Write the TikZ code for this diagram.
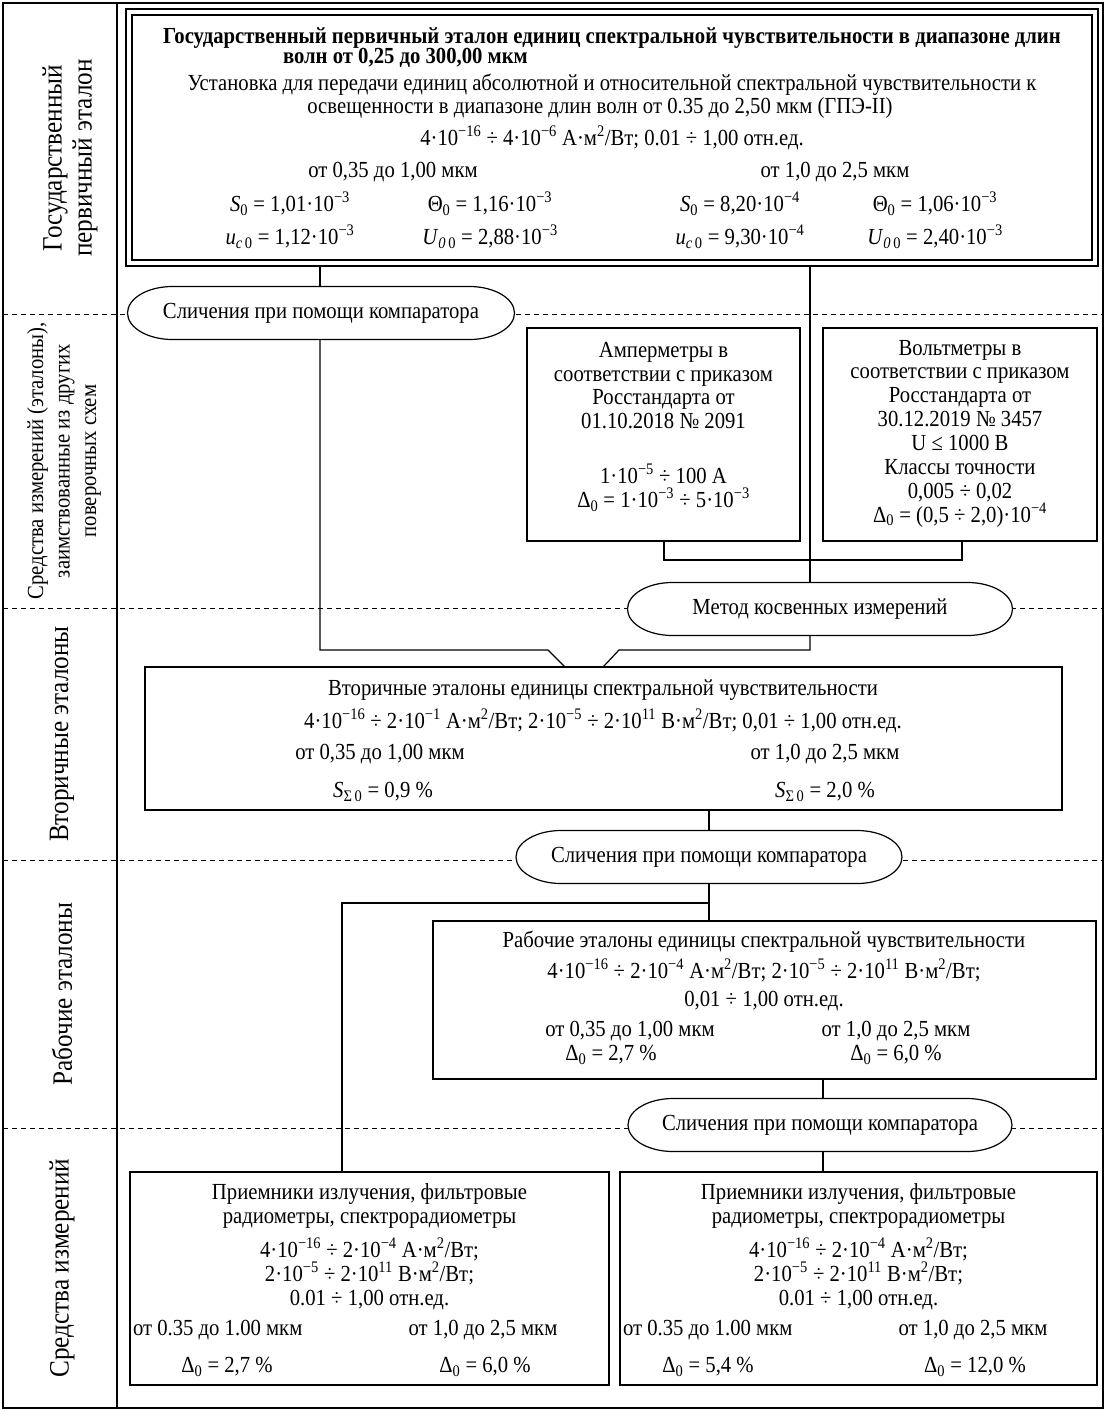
\documentclass[tikz,border=0pt]{standalone}
\usepackage{fontspec}
\setmainfont{Liberation Serif}[FakeStretch=0.9]
\usetikzlibrary{backgrounds,fit}
\newcommand\up[1]{\textsuperscript{#1}}
\newcommand\dn[1]{\textsubscript{#1}}
\newcommand\ovalpath[1]{%
  \draw[ovalline] ([xshift=45pt]#1.north west) -- ([xshift=-45pt]#1.north east)
    arc[start angle=90, end angle=-90, x radius=45pt, y radius=26.5pt]
    -- ([xshift=45pt]#1.south west)
    arc[start angle=270, end angle=90, x radius=45pt, y radius=26.5pt] -- cycle;}
\begin{document}
\begin{tikzpicture}[x=1pt,y=-1pt,
  every node/.style={inner sep=0pt, outer sep=0pt},
  outerframe/.style={draw, line width=2pt, inner sep=0pt},
  box/.style={draw, line width=1.4pt, fill=white, inner sep=0pt},
  ovaltext/.style={minimum height=53pt, inner sep=0pt, font=\fontsize{23}{26}\selectfont},
  ovalline/.style={draw, line width=1.2pt, fill=white},
  txt/.style={font=\fontsize{23}{23}\selectfont, inner sep=0pt, align=center},
  tb/.style={font=\fontsize{23}{23}\selectfont\bfseries, inner sep=0pt, align=center},
  lbl/.style={font=\fontsize{28}{30}\selectfont, rotate=90, align=center, inner sep=0pt},
  link/.style={line width=1.2pt},
  sep/.style={dash pattern=on 5pt off 4pt, line width=0.8pt}]
\useasboundingbox (0,0) rectangle (1106,1411);

% frame and left column
\node[outerframe, fit={(3,3) (1103,1408)}] (frame) {};
\coordinate (d1) at (117,3);
\coordinate (d2) at (117,1408);
\draw[line width=1.5pt] (d1) -- (d2);

\node[lbl] (L1) at (70,158) {Государственный\\первичный эталон};
\node[lbl, font=\fontsize{23}{26.5}\selectfont] (L2) at (64,461) {Средства измерений (эталоны),\\заимствованные из других\\поверочных схем};
\node[lbl] (L3) at (62,734) {Вторичные эталоны};
\node[lbl] (L4) at (62,994) {Рабочие эталоны};
\node[lbl] (L5) at (62,1268) {Средства измерений};

% boxes
\node[box, line width=2.8pt, fit={(126,9) (1098,266)}] (top) {};
\node[draw, line width=1.2pt, inner sep=0pt, fit={(132,15) (1092,260)}] (topin) {};
\node[box, fit={(527,328) (800,541)}] (amp) {};
\node[box, fit={(823,328) (1097,541)}] (volt) {};
\node[box, fit={(145,667) (1062,810)}] (sec) {};
\node[box, fit={(433,921) (1096,1079)}] (work) {};
\node[box, fit={(130,1172) (609,1385)}] (bl) {};
\node[box, fit={(620,1172) (1097,1385)}] (br) {};

% ovals (text; outlines drawn on background layer)
\node[ovaltext, minimum width=387pt] (o1) at (321,313) {Сличения при помощи компаратора};
\node[ovaltext, minimum width=385pt] (o2) at (820,609) {Метод косвенных измерений};
\node[ovaltext, minimum width=386pt] (o3) at (709,857) {Сличения при помощи компаратора};
\node[ovaltext, minimum width=384pt] (o4) at (820,1125) {Сличения при помощи компаратора};

% top box text
\node[tb] (t1) at (612,38) {Государственный первичный эталон единиц спектральной чувствительности в диапазоне длин};
\node[tb, anchor=west] (t2) at (283,58) {волн от 0,25 до 300,00 мкм};
\node[txt] (t3) at (612,85) {Установка для передачи единиц абсолютной и относительной спектральной чувствительности к};
\node[txt] (t4) at (600,108) {освещенности в диапазоне длин волн от 0.35 до 2,50 мкм (ГПЭ-II)};
\node[txt] (t5) at (612,138) {4·10\up{−16} ÷ 4·10\up{−6} А·м\up{2}/Вт; 0.01 ÷ 1,00 отн.ед.};
\node[txt] (t6) at (393,172) {от 0,35 до 1,00 мкм};
\node[txt] (t7) at (835,172) {от 1,0 до 2,5 мкм};
\node[txt] (t8) at (290,204) {\textit{S}\dn{0} = 1,01·10\up{−3}};
\node[txt] (t9) at (490,204) {Θ\dn{0} = 1,16·10\up{−3}};
\node[txt] (t10) at (740,204) {\textit{S}\dn{0} = 8,20·10\up{−4}};
\node[txt] (t11) at (935,204) {Θ\dn{0} = 1,06·10\up{−3}};
\node[txt] (t12) at (290,237) {\textit{u}\dn{\textit{c}\,0} = 1,12·10\up{−3}};
\node[txt] (t13) at (490,237) {\textit{U}\dn{\textit{0}\,0} = 2,88·10\up{−3}};
\node[txt] (t14) at (740,237) {\textit{u}\dn{\textit{c}\,0} = 9,30·10\up{−4}};
\node[txt] (t15) at (935,237) {\textit{U}\dn{\textit{0}\,0} = 2,40·10\up{−3}};

% ammeters / voltmeters
\node[txt, font=\fontsize{23}{23.7}\selectfont] (a1) at (663.5,385.5) {Амперметры в\\соответствии с приказом\\Росстандарта от\\01.10.2018 № 2091};
\node[txt, font=\fontsize{23}{24}\selectfont] (a2) at (663.5,488) {1·10\up{−5} ÷ 100 А\\Δ\dn{0} = 1·10\up{−3} ÷ 5·10\up{−3}};
\node[txt, font=\fontsize{23}{23.86}\selectfont] (v1) at (960,433.5) {Вольтметры в\\соответствии с приказом\\Росстандарта от\\30.12.2019 № 3457\\U ≤ 1000 В\\Классы точности\\0,005 ÷ 0,02\\Δ\dn{0} = (0,5 ÷ 2,0)·10\up{−4}};

% secondary standards
\node[txt] (s1) at (603,690) {Вторичные эталоны единицы спектральной чувствительности};
\node[txt] (s2) at (603,721) {4·10\up{−16} ÷ 2·10\up{−1} А·м\up{2}/Вт; 2·10\up{−5} ÷ 2·10\up{11} В·м\up{2}/Вт; 0,01 ÷ 1,00 отн.ед.};
\node[txt] (s3) at (380,754) {от 0,35 до 1,00 мкм};
\node[txt] (s4) at (825,754) {от 1,0 до 2,5 мкм};
\node[txt] (s5) at (383,792) {\textit{S}\dn{Σ\,0} = 0,9 \%};
\node[txt] (s6) at (825,792) {\textit{S}\dn{Σ\,0} = 2,0 \%};

% working standards
\node[txt] (w1) at (764,942) {Рабочие эталоны единицы спектральной чувствительности};
\node[txt] (w2) at (764,970) {4·10\up{−16} ÷ 2·10\up{−4} А·м\up{2}/Вт; 2·10\up{−5} ÷ 2·10\up{11} В·м\up{2}/Вт;};
\node[txt] (w3) at (764,1001) {0,01 ÷ 1,00 отн.ед.};
\node[txt] (w4) at (630,1031) {от 0,35 до 1,00 мкм};
\node[txt] (w5) at (896,1031) {от 1,0 до 2,5 мкм};
\node[txt] (w6) at (611,1055) {Δ\dn{0} = 2,7 \%};
\node[txt] (w7) at (896,1055) {Δ\dn{0} = 6,0 \%};

% bottom boxes
\node[txt, font=\fontsize{23}{24}\selectfont] (b1) at (369.5,1206) {Приемники излучения, фильтровые\\радиометры, спектрорадиометры};
\node[txt, font=\fontsize{23}{24}\selectfont] (b2) at (369.5,1274) {4·10\up{−16} ÷ 2·10\up{−4} А·м\up{2}/Вт;\\2·10\up{−5} ÷ 2·10\up{11} В·м\up{2}/Вт;\\0.01 ÷ 1,00 отн.ед.};
\node[txt, anchor=west] (b3) at (133,1330) {от 0.35 до 1.00 мкм};
\node[txt] (b4) at (483,1330) {от 1,0 до 2,5 мкм};
\node[txt] (b5) at (227,1367) {Δ\dn{0} = 2,7 \%};
\node[txt] (b6) at (485,1367) {Δ\dn{0} = 6,0 \%};

\node[txt, font=\fontsize{23}{24}\selectfont] (r1) at (858.5,1206) {Приемники излучения, фильтровые\\радиометры, спектрорадиометры};
\node[txt, font=\fontsize{23}{24}\selectfont] (r2) at (858.5,1274) {4·10\up{−16} ÷ 2·10\up{−4} А·м\up{2}/Вт;\\2·10\up{−5} ÷ 2·10\up{11} В·м\up{2}/Вт;\\0.01 ÷ 1,00 отн.ед.};
\node[txt, anchor=west] (r3) at (623,1330) {от 0.35 до 1.00 мкм};
\node[txt] (r4) at (973,1330) {от 1,0 до 2,5 мкм};
\node[txt] (r5) at (708,1367) {Δ\dn{0} = 5,4 \%};
\node[txt] (r6) at (975,1367) {Δ\dn{0} = 12,0 \%};

% connectors, separators and oval outlines behind the text
\begin{pgfonlayer}{background}
\coordinate (sa1) at (3,314);  \coordinate (sb1) at (1103,314);
\coordinate (sa2) at (3,608);  \coordinate (sb2) at (1103,608);
\coordinate (sa3) at (3,860);  \coordinate (sb3) at (1103,860);
\coordinate (sa4) at (3,1128); \coordinate (sb4) at (1103,1128);
\draw[sep] (sa1) -- (sb1);
\draw[sep] (sa2) -- (sb2);
\draw[sep] (sa3) -- (sb3);
\draw[sep] (sa4) -- (sb4);

\coordinate (jl) at (320,650);
\coordinate (jla) at (548,650);
\coordinate (jlb) at (565,667);
\draw[link] (top.south -| jl) -- (o1.north -| jl);
\draw[link] (o1.south -| jl) -- (jl) -- (jla) -- (jlb |- sec.north);

\coordinate (jr) at (810,650);
\coordinate (jra) at (619,650);
\coordinate (jrb) at (603,667);
\draw[link] (top.south -| jr) -- (o2.north -| jr);
\draw[link] (o2.south -| jr) -- (jr) -- (jra) -- (jrb |- sec.north);

\coordinate (ba) at (664,560);
\coordinate (bb) at (962,560);
\draw[link] (amp.south -| ba) -- (ba) -- (bb) -- (volt.south -| bb);

\coordinate (c3) at (709,903);
\coordinate (c3l) at (342,903);
\draw[link] (sec.south -| c3) -- (o3.north -| c3);
\draw[link] (o3.south -| c3) -- (work.north -| c3);
\draw[link] (c3) -- (c3l) -- (bl.north -| c3l);

\coordinate (c4) at (823,1100);
\draw[link] (work.south -| c4) -- (o4.north -| c4);
\draw[link] (o4.south -| c4) -- (br.north -| c4);

\ovalpath{o1}
\ovalpath{o2}
\ovalpath{o3}
\ovalpath{o4}
\end{pgfonlayer}
\end{tikzpicture}
\end{document}
